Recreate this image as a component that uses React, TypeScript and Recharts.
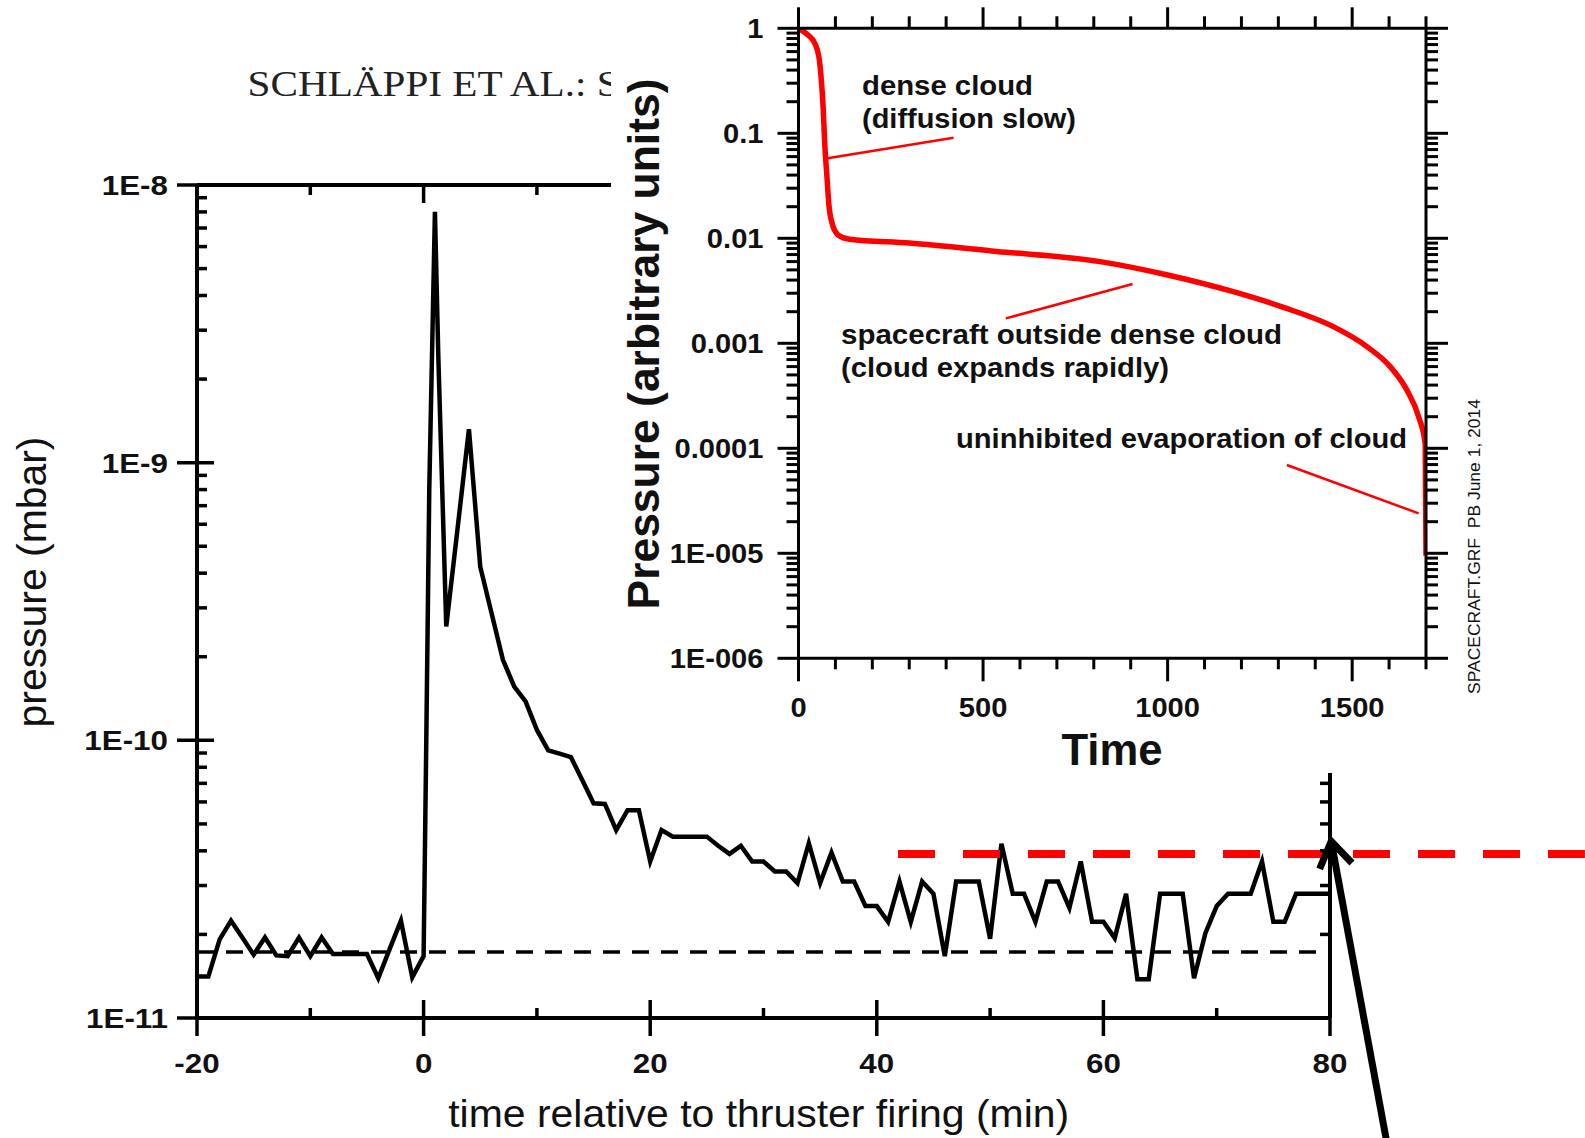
import React from 'react';
import { LineChart, Line, XAxis, YAxis, ReferenceLine } from 'recharts';

// main panel: pressure after thruster firing
const MAIN_TIME = [
  -20, -19, -18, -17, -16, -15, -14, -13, -12, -11,
  -10, -9, -8, -7, -6, -5, -4, -3, -2, -1,
  0, 0.25, 0.5, 1, 1.3, 2, 3, 4, 5, 6,
  7, 8, 9, 10, 11, 12, 13, 14, 15, 16,
  17, 18, 19, 20, 21, 22, 23, 24, 25, 26,
  27, 28, 29, 30, 31, 32, 33, 34, 35, 36,
  37, 38, 39, 40, 41, 42, 43, 44, 45, 46,
  47, 48, 49, 50, 51, 52, 53, 54, 55, 56,
  57, 58, 59, 60, 61, 62, 63, 64, 65, 66,
  67, 68, 69, 70, 71, 72, 73, 74, 75, 76,
  77, 78, 79, 80,
];
const MAIN_PRESSURE = [
  1.41e-11, 1.41e-11, 1.92e-11, 2.24e-11, 1.95e-11, 1.69e-11, 1.95e-11, 1.68e-11, 1.67e-11, 1.95e-11,
  1.67e-11, 1.95e-11, 1.7e-11, 1.7e-11, 1.7e-11, 1.7e-11, 1.39e-11, 1.77e-11, 2.24e-11, 1.4e-11,
  1.67e-11, 1.1e-10, 8e-10, 8e-9, 2.4e-9, 2.57e-10, 5.8e-10, 1.32e-9, 4.22e-10, 2.87e-10,
  1.95e-10, 1.56e-10, 1.38e-10, 1.09e-10, 9.2e-11, 8.95e-11, 8.7e-11, 7.2e-11, 5.93e-11, 5.9e-11,
  4.75e-11, 5.6e-11, 5.6e-11, 3.66e-11, 4.75e-11, 4.5e-11, 4.5e-11, 4.5e-11, 4.5e-11, 4.17e-11,
  3.9e-11, 4.17e-11, 3.66e-11, 3.66e-11, 3.37e-11, 3.37e-11, 3.06e-11, 4.26e-11, 3.06e-11, 3.94e-11,
  3.1e-11, 3.1e-11, 2.53e-11, 2.53e-11, 2.22e-11, 3.1e-11, 2.22e-11, 3.1e-11, 2.8e-11, 1.67e-11,
  3.1e-11, 3.1e-11, 3.1e-11, 1.93e-11, 4.24e-11, 2.8e-11, 2.8e-11, 2.22e-11, 3.1e-11, 3.1e-11,
  2.49e-11, 3.66e-11, 2.22e-11, 2.22e-11, 1.94e-11, 2.8e-11, 1.38e-11, 1.38e-11, 2.8e-11, 2.8e-11,
  2.8e-11, 1.39e-11, 2.02e-11, 2.53e-11, 2.8e-11, 2.8e-11, 2.8e-11, 3.66e-11, 2.22e-11, 2.22e-11,
  2.8e-11, 2.8e-11, 2.8e-11, 2.8e-11,
];
const BACKGROUND_P = 1.73e-11;
const LIMIT_P = 3.9e-11;
const LIMIT_FROM_T = 41.87;
const LIMIT_TO_T = 102.5;
const ARROW_TIP = { x: 80.11, y: 4.33e-11 };
const ARROW_TAIL = { x: 84.97, y: 3.64e-12 };

const MAIN_X_TICKS = [-20, -10, 0, 10, 20, 30, 40, 50, 60, 70, 80];
const MAIN_Y_MAJOR = [1e-11, 1e-10, 1e-9, 1e-8];
const MAIN_Y_LABELS = ['1E-11', '1E-10', '1E-9', '1E-8'];

// inset: model of the cloud pressure
const INSET_TIME = [0, 26, 44, 55, 61, 67, 71, 77, 82, 91, 108, 138, 300, 537, 817, 997, 1178, 1314, 1449, 1540, 1603, 1648, 1680, 1698, 1700];
const INSET_PRESSURE = [1, 0.86, 0.72, 0.54, 0.35, 0.17, 0.08, 0.039, 0.0215, 0.0139, 0.0107, 0.0098, 0.009, 0.0075, 0.006, 0.0045, 0.0031, 0.0022, 0.00144, 0.00093, 0.0006, 0.00036, 0.0002, 0.00011, 0.0000095];
const INSET_X_TICKS = [0, 100, 200, 300, 400, 500, 600, 700, 800, 900, 1000, 1100, 1200, 1300, 1400, 1500, 1600, 1700];
const INSET_X_LABELS = [0, 500, 1000, 1500];
const INSET_Y_MAJOR = [1, 0.1, 0.01, 0.001, 0.0001, 0.00001, 0.000001];
const INSET_Y_LABELS = ['1', '0.1', '0.01', '0.001', '0.0001', '1E-005', '1E-006'];

// pointer lines of the inset notes: [from, to]
const POINTERS = [
  [{ x: 79, y: 0.0578 }, { x: 420, y: 0.0908 }],
  [{ x: 561.5, y: 0.001726 }, { x: 905, y: 0.00367 }],
  [{ x: 1323, y: 6.93e-5 }, { x: 1680, y: 2.4e-5 }],
];

const mainData = MAIN_TIME.map((t, i) => ({ t, p: MAIN_PRESSURE[i] }));
const insetData = INSET_TIME.map((t, i) => ({ t, p: INSET_PRESSURE[i] }));

// decades plus the 2..9 minor ticks in between
const withMinors = (majors: number[]) => {
  const top = Math.max(...majors);
  const out: number[] = [];
  majors.forEach((m) => {
    for (let k = 1; k <= 9; k++) {
      if (m * k <= top * 1.0000001) out.push(m * k);
    }
  });
  return out;
};
const MAIN_Y_TICKS = withMinors(MAIN_Y_MAJOR);
const INSET_Y_TICKS = withMinors(INSET_Y_MAJOR);

const near = (a: number, b: number) => Math.abs(a / b - 1) < 1e-6;
const SX = 1.12;
const SX_INSET = 1.04;
const SANS = '"Liberation Sans", Arial, Helvetica, sans-serif';
const TICK_FONT = { fontFamily: SANS, fontWeight: 700, fontSize: 28, fill: '#111' };

function MainBottomTick({ x, y, payload }: any) {
  const major = payload.value % 20 === 0;
  return (
    <g>
      <line x1={x} x2={x} y1={y - (major ? 18 : 10)} y2={major ? y + 18 : y} stroke="#000" strokeWidth={3.5} />
      {major && (
        <text transform={`translate(${x} ${y + 55}) scale(${SX} 1)`} textAnchor="middle" style={TICK_FONT}>
          {payload.value}
        </text>
      )}
    </g>
  );
}

function MainTopTick({ x, y, payload }: any) {
  const major = payload.value % 20 === 0;
  return <line x1={x} x2={x} y1={y} y2={y + (major ? 18 : 10)} stroke="#000" strokeWidth={3.5} />;
}

function MainLeftTick({ x, y, payload }: any) {
  const i = MAIN_Y_MAJOR.findIndex((m) => near(payload.value, m));
  const major = i >= 0;
  return (
    <g>
      <line x1={major ? x - 20 : x} x2={x + (major ? 17 : 10)} y1={y} y2={y} stroke="#000" strokeWidth={3.5} />
      {major && (
        <text transform={`translate(${x - 29} ${y + 10}) scale(${SX} 1)`} textAnchor="end" style={TICK_FONT}>
          {MAIN_Y_LABELS[i]}
        </text>
      )}
    </g>
  );
}

function MainRightTick({ x, y, payload }: any) {
  const major = MAIN_Y_MAJOR.some((m) => near(payload.value, m));
  return <line x1={x - (major ? 17 : 10)} x2={x} y1={y} y2={y} stroke="#000" strokeWidth={3.5} />;
}

function InsetBottomTick({ x, y, payload }: any) {
  const major = payload.value % 500 === 0;
  return (
    <g>
      <line x1={x} x2={x} y1={y} y2={y + (major ? 23 : 11)} stroke="#000" strokeWidth={3} />
      {INSET_X_LABELS.includes(payload.value) && (
        <text transform={`translate(${x} ${y + 59}) scale(${SX_INSET} 1)`} textAnchor="middle" style={TICK_FONT}>
          {payload.value}
        </text>
      )}
    </g>
  );
}

function InsetTopTick({ x, y, payload }: any) {
  const major = payload.value % 500 === 0;
  return <line x1={x} x2={x} y1={y - (major ? 21 : 12)} y2={y} stroke="#000" strokeWidth={3} />;
}

function InsetLeftTick({ x, y, payload }: any) {
  const i = INSET_Y_MAJOR.findIndex((m) => near(payload.value, m));
  const major = i >= 0;
  return (
    <g>
      <line x1={x - (major ? 21 : 12)} x2={x} y1={y} y2={y} stroke="#000" strokeWidth={3} />
      {major && (
        <text transform={`translate(${x - 35} ${y + 10}) scale(${SX_INSET} 1)`} textAnchor="end" style={TICK_FONT}>
          {INSET_Y_LABELS[i]}
        </text>
      )}
    </g>
  );
}

function InsetRightTick({ x, y, payload }: any) {
  const major = INSET_Y_MAJOR.some((m) => near(payload.value, m));
  return <line x1={x} x2={x + (major ? 22 : 12)} y1={y} y2={y} stroke="#000" strokeWidth={3} />;
}

function ArrowShape(props: any) {
  const { x1, y1, x2, y2 } = props;
  const a = Math.atan2(y2 - y1, x2 - x1);
  const len = 30;
  const spread = 0.58;
  const w1 = `${x1 + len * Math.cos(a + spread)},${y1 + len * Math.sin(a + spread)}`;
  const w2 = `${x1 + len * Math.cos(a - spread)},${y1 + len * Math.sin(a - spread)}`;
  return (
    <g>
      <line x1={x1} y1={y1} x2={x2} y2={y2} stroke="#000" strokeWidth={7} />
      <polyline points={`${w1} ${x1},${y1} ${w2}`} fill="none" stroke="#000" strokeWidth={7} />
    </g>
  );
}

function MainChart() {
  return (
    <LineChart width={1585} height={1138} data={mainData} margin={{ top: 0, right: 0, bottom: 0, left: 0 }}>
      <XAxis
        dataKey="t"
        type="number"
        domain={[-20, 80]}
        allowDataOverflow
        ticks={MAIN_X_TICKS}
        interval={0}
        height={120}
        tickLine={false}
        tickSize={0}
        tickMargin={0}
        axisLine={{ stroke: '#000', strokeWidth: 4 }}
        tick={MainBottomTick}
      />
      <XAxis
        xAxisId="top"
        orientation="top"
        dataKey="t"
        type="number"
        domain={[-20, 80]}
        allowDataOverflow
        ticks={MAIN_X_TICKS}
        interval={0}
        height={185}
        tickLine={false}
        tickSize={0}
        tickMargin={0}
        axisLine={{ stroke: '#000', strokeWidth: 4 }}
        tick={MainTopTick}
      />
      <YAxis
        type="number"
        scale="log"
        domain={[1e-11, 1e-8]}
        allowDataOverflow
        ticks={MAIN_Y_TICKS}
        interval={0}
        width={197}
        tickLine={false}
        tickSize={0}
        tickMargin={0}
        axisLine={{ stroke: '#000', strokeWidth: 4 }}
        tick={MainLeftTick}
      />
      <YAxis
        yAxisId="right"
        orientation="right"
        type="number"
        scale="log"
        domain={[1e-11, 1e-8]}
        allowDataOverflow
        ticks={MAIN_Y_TICKS}
        interval={0}
        width={255}
        tickLine={false}
        tickSize={0}
        tickMargin={0}
        axisLine={{ stroke: '#000', strokeWidth: 4 }}
        tick={MainRightTick}
      />
      <ReferenceLine y={BACKGROUND_P} stroke="#000" strokeWidth={3.5} strokeDasharray="17 12" />
      <Line type="linear" dataKey="p" stroke="#000" strokeWidth={4.5} dot={false} isAnimationActive={false} />
      <ReferenceLine
        segment={[{ x: LIMIT_FROM_T, y: LIMIT_P }, { x: LIMIT_TO_T, y: LIMIT_P }]}
        ifOverflow="visible"
        stroke="#ff0000"
        strokeWidth={8}
        strokeDasharray="37 28"
      />
      <ReferenceLine segment={[ARROW_TIP, ARROW_TAIL]} ifOverflow="visible" shape={ArrowShape} />
    </LineChart>
  );
}

function InsetChart() {
  return (
    <LineChart width={974} height={773} data={insetData} margin={{ top: 0, right: 0, bottom: 0, left: 0 }}>
      <XAxis
        dataKey="t"
        type="number"
        domain={[0, 1700]}
        allowDataOverflow
        ticks={INSET_X_TICKS}
        interval={0}
        height={114.7}
        tickLine={false}
        tickSize={0}
        tickMargin={0}
        axisLine={{ stroke: '#000', strokeWidth: 3 }}
        tick={InsetBottomTick}
      />
      <XAxis
        xAxisId="top"
        orientation="top"
        dataKey="t"
        type="number"
        domain={[0, 1700]}
        allowDataOverflow
        ticks={INSET_X_TICKS}
        interval={0}
        height={28.3}
        tickLine={false}
        tickSize={0}
        tickMargin={0}
        axisLine={{ stroke: '#000', strokeWidth: 3 }}
        tick={InsetTopTick}
      />
      <YAxis
        type="number"
        scale="log"
        domain={[1e-6, 1]}
        allowDataOverflow
        ticks={INSET_Y_TICKS}
        interval={0}
        width={187.5}
        tickLine={false}
        tickSize={0}
        tickMargin={0}
        axisLine={{ stroke: '#000', strokeWidth: 3 }}
        tick={InsetLeftTick}
      />
      <YAxis
        yAxisId="right"
        orientation="right"
        type="number"
        scale="log"
        domain={[1e-6, 1]}
        allowDataOverflow
        ticks={INSET_Y_TICKS}
        interval={0}
        width={159}
        tickLine={false}
        tickSize={0}
        tickMargin={0}
        axisLine={{ stroke: '#000', strokeWidth: 3 }}
        tick={InsetRightTick}
      />
      {POINTERS.map((seg, i) => (
        <ReferenceLine key={i} segment={seg} ifOverflow="visible" stroke="#ff0000" strokeWidth={2.5} />
      ))}
      <Line type="monotone" dataKey="p" stroke="#ff0000" strokeWidth={5.5} dot={false} isAnimationActive={false} />
    </LineChart>
  );
}

const NOTE = { fontFamily: SANS, fontWeight: 700, fontSize: 27, fill: '#111' };

export default function App() {
  return (
    <div style={{ position: 'absolute', left: 0, top: 0, width: 1585, height: 1138, background: '#fff', overflow: 'hidden' }}>
      <div style={{ position: 'absolute', left: 0, top: 0 }}>
        <MainChart />
      </div>
      <svg width={1585} height={1138} style={{ position: 'absolute', left: 0, top: 0, pointerEvents: 'none' }}>
        <text x={247.6} y={96} fontFamily='"Liberation Serif", "Times New Roman", serif' fontSize={36} fill="#222" textLength={372} lengthAdjust="spacingAndGlyphs">
          SCHLÄPPI ET AL.: S
        </text>
        <text x={758.7} y={1127} textAnchor="middle" fontFamily={SANS} fontSize={39} fill="#111" textLength={621} lengthAdjust="spacingAndGlyphs">
          time relative to thruster firing (min)
        </text>
        <text transform="translate(45.5 582) rotate(-90)" textAnchor="middle" fontFamily={SANS} fontSize={40} fill="#111" textLength={291} lengthAdjust="spacingAndGlyphs">
          pressure (mbar)
        </text>
      </svg>
      <div style={{ position: 'absolute', left: 611, top: 0, width: 974, height: 773, background: '#fff' }}>
        <InsetChart />
      </div>
      <svg width={1585} height={1138} style={{ position: 'absolute', left: 0, top: 0, pointerEvents: 'none' }}>
        <text x={862} y={95} style={NOTE} textLength={171} lengthAdjust="spacingAndGlyphs">dense cloud</text>
        <text x={862} y={128} style={NOTE} textLength={214} lengthAdjust="spacingAndGlyphs">(diffusion slow)</text>
        <text x={841} y={344} style={NOTE} textLength={441} lengthAdjust="spacingAndGlyphs">spacecraft outside dense cloud</text>
        <text x={841} y={377} style={NOTE} textLength={328} lengthAdjust="spacingAndGlyphs">(cloud expands rapidly)</text>
        <text x={956} y={448} style={NOTE} textLength={451} lengthAdjust="spacingAndGlyphs">uninhibited evaporation of cloud</text>
        <text x={1112} y={765} textAnchor="middle" style={{ ...NOTE, fontSize: 44 }} textLength={101} lengthAdjust="spacingAndGlyphs">Time</text>
        <text transform="translate(659 344) rotate(-90)" textAnchor="middle" style={{ ...NOTE, fontSize: 44 }} textLength={531} lengthAdjust="spacingAndGlyphs">
          Pressure (arbitrary units)
        </text>
        <text transform="translate(1480 694) rotate(-90)" style={{ fontFamily: SANS, fontSize: 17, fill: '#111', whiteSpace: 'pre' }} textLength={295} lengthAdjust="spacingAndGlyphs">
          SPACECRAFT.GRF  PB June 1, 2014
        </text>
      </svg>
    </div>
  );
}
